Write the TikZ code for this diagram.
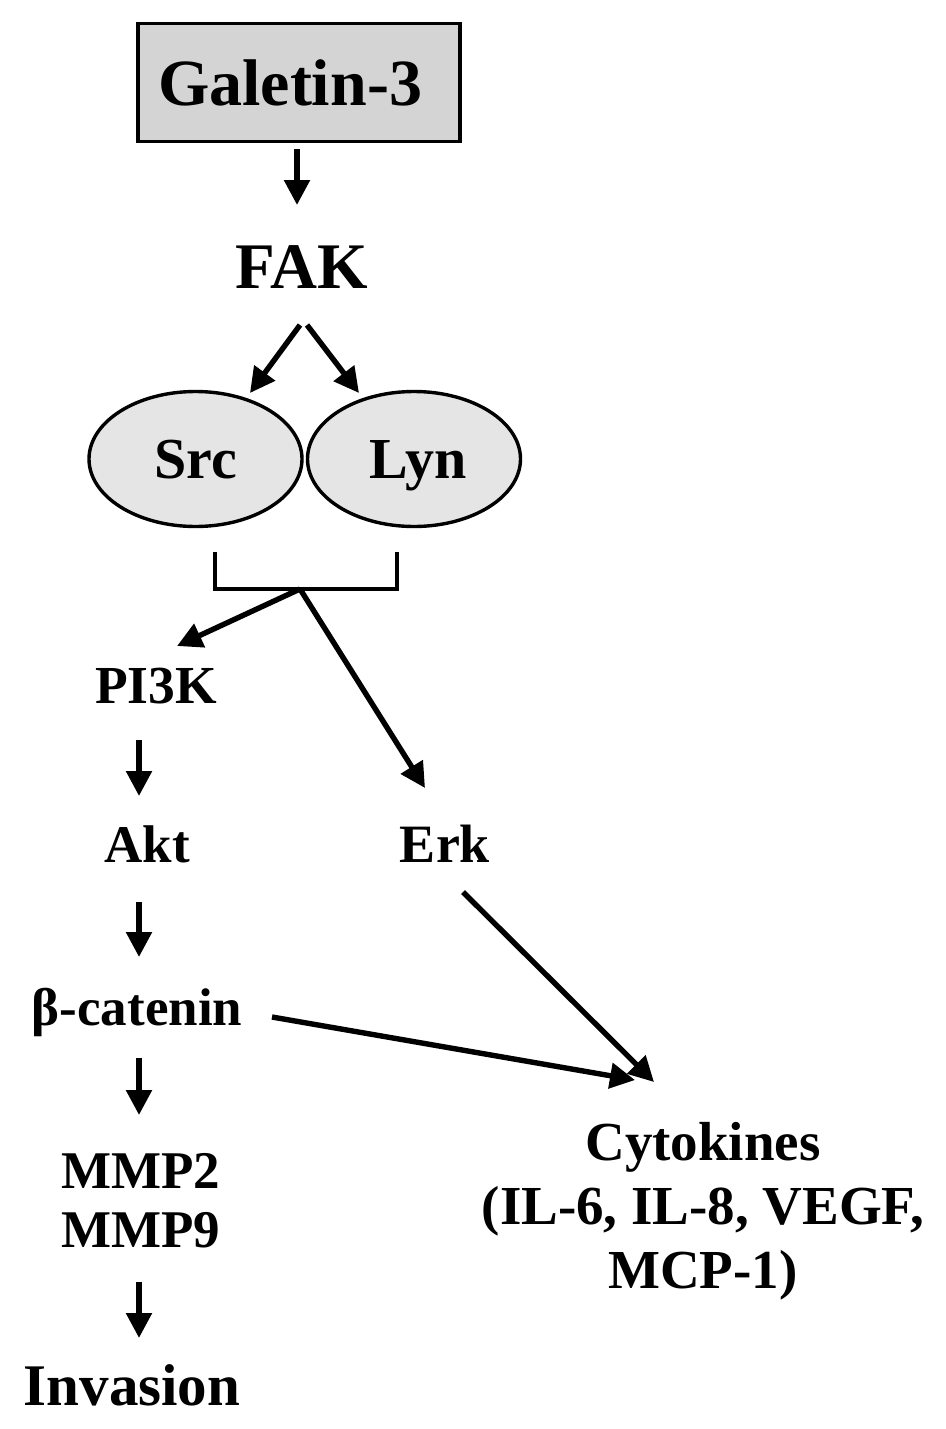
\documentclass[tikz,border=0pt]{standalone}
\usepackage{fontspec}
\setmainfont{Liberation Serif}
\usetikzlibrary{arrows.meta,shapes.geometric,calc}
\begin{document}
\begin{tikzpicture}[x=1pt,y=-1pt,
  arr/.style={-{Triangle[length=25pt,width=25pt]},line width=5.4pt},
  lbl/.style={inner sep=0pt, anchor=base, font=\bfseries\fontsize{#1}{#1}\selectfont},
  lbl/.default=54,
  oval/.style={ellipse, draw, line width=3.4pt, fill=black!10, minimum width=213pt,
    minimum height=135pt, inner sep=0pt, text height=38pt, text depth=0pt,
    font=\bfseries\fontsize{58}{58}\selectfont},
]
\fill[white] (0,0) rectangle (945,1429);
\useasboundingbox (0,0) rectangle (945,1429);

\node[draw, line width=3.2pt, fill=black!17, minimum width=322pt, minimum height=118pt,
  inner sep=0pt, font=\bfseries\fontsize{66}{66}\selectfont] (gal) at (299,82.5) {Galetin-3\kern18pt};
\node[lbl=65] (fak) at (302,288) {FAK};
\node[oval] (src) at (195.5,459) {Src};
\node[oval] (lyn) at (414,459) {\kern8pt Lyn};

\coordinate (bl) at (215,552);
\coordinate (br) at (397,552);
\coordinate (bj) at (300,589);
\coordinate (ax) at (139,0);

\node[lbl=53.5] (pi3k) at (156,703) {PI3K};
\node[lbl=53] (akt) at (147,862) {Akt};
\node[lbl=54] (erk) at (445,862) {Erk};
\node[lbl=53] (beta) at (137,1025) {β-catenin};
\node[lbl=53] (mmp2) at (141,1188) {MMP2};
\node[lbl=53] (mmp9) at (141,1247) {MMP9};
\node[lbl=59] (inv) at (132,1405) {Invasion};
\node[inner sep=0pt, anchor=base, align=center, font=\bfseries\fontsize{55}{64}\selectfont] (cyt) at (703,1288)
  {Cytokines\\(IL-6, IL-8, VEGF,\\MCP-1)};

\draw[arr] ($(gal.south)+(-2,6)$) -- ($(fak.base)+(-5,-83)$);
\draw[arr] ($(fak.base)+(-2,37)$) -- ($(src.center)+(54.5,-66)$);
\draw[arr] ($(fak.base)+(5,37)$) -- ($(lyn.center)+(-55,-66)$);

\draw[line width=4.5pt] (bl) -- (bl |- bj) -- (br |- bj) -- (br);

\draw[arr] (bj) -- ($(pi3k.base)+(21,-57)$);
\draw[arr] (bj) -- ($(erk.base)+(-20,-74)$);

\draw[arr] ($(pi3k.base -| ax)+(0,37)$) -- ($(akt.base -| ax)+(0,-66)$);
\draw[arr] ($(akt.base -| ax)+(0,40)$) -- ($(beta.base -| ax)+(0,-68)$);
\draw[arr] ($(beta.base -| ax)+(0,33)$) -- ($(mmp2.base -| ax)+(0,-73)$);
\draw[arr] ($(mmp9.base -| ax)+(0,35)$) -- ($(inv.base -| ax)+(0,-67)$);

\draw[arr] ($(erk.base)+(18,30)$) -- ($(cyt.base)+(-49,-206)$);
\draw[arr] ($(beta.base)+(135,-8)$) -- ($(cyt.base)+(-68,-208)$);
\end{tikzpicture}
\end{document}
